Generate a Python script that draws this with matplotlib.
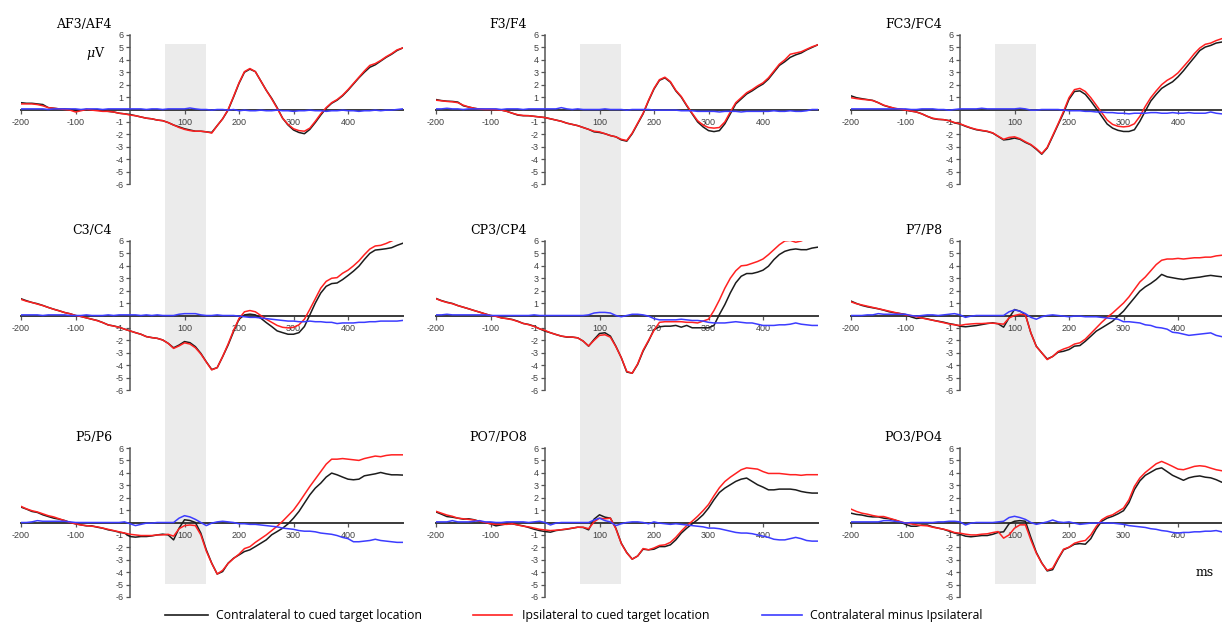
import numpy as np
import matplotlib.pyplot as plt
from matplotlib.lines import Line2D
from matplotlib.patches import Rectangle
from matplotlib import transforms

plt.rcParams['font.family'] = 'Liberation Sans'
plt.rcParams['mathtext.fontset'] = 'dejavuserif'
plt.rcParams['axes.unicode_minus'] = False

# sample times in ms
times = np.arange(-200, 501, 10)

# ---- AF3/AF4
af_contra = [0.55, 0.50, 0.50, 0.45, 0.40, 0.15, 0.10, 0.05, 0.05, 0.00,
             -0.10, -0.05, 0.00, -0.05, -0.05, -0.10, -0.15, -0.20, -0.30, -0.35,
             -0.40, -0.50, -0.60, -0.70, -0.75, -0.85, -0.90, -1.05, -1.25, -1.40,
             -1.55, -1.65, -1.75, -1.75, -1.80, -1.85, -1.30, -0.75, -0.05, 1.00,
             2.10, 3.00, 3.25, 3.05, 2.30, 1.55, 0.90, 0.15, -0.70, -1.25,
             -1.65, -1.85, -1.95, -1.60, -1.05, -0.45, 0.10, 0.50, 0.75, 1.10,
             1.55, 2.05, 2.55, 3.00, 3.40, 3.60, 3.90, 4.20, 4.45, 4.75,
             4.95]
af_ipsi = [0.45, 0.45, 0.45, 0.40, 0.30, 0.15, 0.10, 0.05, 0.00, -0.05,
           -0.20, -0.10, 0.00, -0.05, -0.10, -0.15, -0.15, -0.20, -0.30, -0.35,
           -0.45, -0.50, -0.60, -0.70, -0.75, -0.85, -0.90, -1.05, -1.25, -1.45,
           -1.60, -1.70, -1.75, -1.75, -1.80, -1.90, -1.30, -0.75, 0.00, 1.05,
           2.15, 3.05, 3.30, 3.05, 2.30, 1.55, 0.85, 0.10, -0.70, -1.20,
           -1.55, -1.70, -1.75, -1.50, -0.95, -0.35, 0.15, 0.55, 0.80, 1.15,
           1.60, 2.10, 2.60, 3.10, 3.55, 3.70, 3.95, 4.25, 4.50, 4.80,
           4.95]
af_diff = [0.05, 0.05, 0.05, 0.05, 0.05, 0.00, 0.05, 0.05, 0.05, 0.05,
           0.05, 0.00, 0.05, 0.05, 0.05, 0.00, 0.05, 0.05, 0.05, 0.05,
           0.05, 0.05, 0.05, 0.00, 0.05, 0.05, 0.00, 0.05, 0.05, 0.05,
           0.05, 0.12, 0.05, 0.00, 0.00, -0.05, 0.00, 0.00, -0.05, 0.00,
           -0.10, -0.05, -0.10, -0.10, -0.05, -0.10, -0.10, -0.05, -0.10, -0.10,
           -0.15, -0.10, -0.10, -0.05, -0.10, -0.10, -0.15, -0.10, -0.10, -0.05,
           -0.10, -0.10, -0.15, -0.10, -0.10, -0.05, -0.10, -0.05, -0.05, 0.00,
           0.05]

# ---- F3/F4
f_contra = [0.80, 0.72, 0.67, 0.65, 0.60, 0.30, 0.20, 0.10, 0.03, 0.00,
            0.00, 0.00, -0.05, -0.15, -0.30, -0.45, -0.50, -0.50, -0.55, -0.60,
            -0.65, -0.75, -0.85, -0.95, -1.10, -1.20, -1.30, -1.45, -1.60, -1.80,
            -1.85, -1.95, -2.10, -2.20, -2.45, -2.55, -1.95, -1.15, -0.35, 0.70,
            1.65, 2.35, 2.55, 2.20, 1.50, 1.00, 0.30, -0.35, -1.00, -1.40,
            -1.70, -1.78, -1.70, -1.15, -0.35, 0.45, 0.85, 1.25, 1.50, 1.80,
            2.05, 2.45, 3.00, 3.55, 3.85, 4.20, 4.40, 4.55, 4.80, 5.00,
            5.20]
f_ipsi = [0.75, 0.70, 0.65, 0.62, 0.55, 0.35, 0.20, 0.10, 0.03, 0.00,
          0.00, -0.02, -0.05, -0.15, -0.30, -0.42, -0.48, -0.50, -0.55, -0.60,
          -0.65, -0.75, -0.85, -0.95, -1.10, -1.20, -1.30, -1.45, -1.60, -1.75,
          -1.80, -1.95, -2.10, -2.20, -2.40, -2.50, -1.90, -1.10, -0.30, 0.75,
          1.70, 2.40, 2.60, 2.25, 1.55, 1.05, 0.35, -0.30, -0.90, -1.25,
          -1.45, -1.50, -1.45, -1.00, -0.20, 0.55, 0.95, 1.35, 1.60, 1.90,
          2.15, 2.55, 3.10, 3.65, 4.00, 4.45, 4.55, 4.65, 4.85, 5.05,
          5.20]
f_diff = [0.05, 0.05, 0.10, 0.05, 0.05, 0.00, 0.05, 0.05, 0.05, 0.05,
          0.05, 0.05, 0.00, 0.05, 0.05, 0.05, 0.00, 0.05, 0.05, 0.05,
          0.05, 0.05, 0.05, 0.15, 0.05, 0.00, 0.05, 0.00, 0.00, 0.00,
          0.00, 0.05, 0.00, 0.00, 0.00, -0.05, 0.00, 0.00, 0.00, 0.00,
          -0.05, -0.05, -0.05, -0.05, -0.05, -0.10, -0.10, -0.10, -0.15, -0.15,
          -0.15, -0.15, -0.20, -0.15, -0.15, -0.15, -0.20, -0.15, -0.15, -0.15,
          -0.15, -0.15, -0.10, -0.15, -0.15, -0.10, -0.15, -0.15, -0.10, 0.00,
          0.00]

# ---- FC3/FC4
fc_contra = [1.10, 0.95, 0.87, 0.80, 0.73, 0.55, 0.33, 0.20, 0.08, 0.03,
             -0.05, -0.13, -0.20, -0.35, -0.55, -0.73, -0.80, -0.82, -0.90, -1.08,
             -1.17, -1.35, -1.50, -1.63, -1.70, -1.77, -1.90, -2.17, -2.45, -2.40,
             -2.30, -2.40, -2.65, -2.85, -3.20, -3.60, -3.10, -2.17, -1.22, -0.27,
             0.82, 1.45, 1.50, 1.22, 0.68, 0.08, -0.55, -1.17, -1.50, -1.68,
             -1.77, -1.77, -1.63, -0.95, -0.13, 0.68, 1.22, 1.70, 1.98, 2.23,
             2.63, 3.12, 3.67, 4.20, 4.75, 5.03, 5.16, 5.35, 5.43, 5.50,
             5.55]
fc_ipsi = [0.95, 0.88, 0.82, 0.78, 0.72, 0.55, 0.35, 0.22, 0.10, 0.03,
           -0.05, -0.12, -0.20, -0.35, -0.55, -0.70, -0.78, -0.82, -0.90, -1.05,
           -1.15, -1.32, -1.48, -1.60, -1.68, -1.75, -1.88, -2.15, -2.40, -2.25,
           -2.20, -2.35, -2.60, -2.82, -3.15, -3.55, -3.05, -2.10, -1.15, -0.15,
           0.95, 1.60, 1.70, 1.45, 0.95, 0.35, -0.25, -0.85, -1.20, -1.35,
           -1.40, -1.35, -1.15, -0.55, 0.25, 0.95, 1.50, 2.00, 2.35, 2.60,
           2.95, 3.45, 3.95, 4.50, 4.95, 5.25, 5.35, 5.55, 5.70, 5.85,
           5.90]
fc_diff = [0.05, 0.05, 0.05, 0.05, 0.05, 0.05, 0.05, 0.05, 0.05, 0.05,
           0.05, 0.00, 0.00, 0.05, 0.05, 0.05, 0.00, 0.00, -0.05, 0.00,
           0.05, 0.05, 0.05, 0.05, 0.10, 0.05, 0.05, 0.05, 0.05, 0.05,
           0.05, 0.10, 0.05, -0.05, -0.05, 0.00, 0.00, 0.00, 0.00, -0.05,
           -0.10, -0.10, -0.10, -0.15, -0.15, -0.20, -0.20, -0.25, -0.25, -0.30,
           -0.30, -0.35, -0.30, -0.30, -0.30, -0.25, -0.25, -0.30, -0.30, -0.25,
           -0.30, -0.30, -0.25, -0.30, -0.30, -0.30, -0.20, -0.30, -0.35, -0.35,
           -0.35]

# ---- C3/C4
c_contra = [1.35, 1.19, 1.05, 0.95, 0.81, 0.65, 0.51, 0.38, 0.24, 0.14,
            0.00, -0.08, -0.19, -0.30, -0.40, -0.57, -0.76, -0.84, -0.95, -1.10,
            -1.24, -1.38, -1.51, -1.70, -1.78, -1.84, -1.97, -2.24, -2.60, -2.38,
            -2.10, -2.19, -2.51, -3.05, -3.73, -4.35, -4.20, -3.32, -2.38, -1.30,
            -0.30, 0.05, 0.11, 0.05, -0.22, -0.57, -0.89, -1.24, -1.38, -1.51,
            -1.51, -1.38, -0.89, 0.05, 1.00, 1.81, 2.35, 2.57, 2.62, 2.89,
            3.22, 3.57, 3.97, 4.51, 5.00, 5.27, 5.32, 5.38, 5.46, 5.65,
            5.81]
c_ipsi = [1.30, 1.15, 1.05, 0.92, 0.80, 0.65, 0.50, 0.38, 0.24, 0.14,
          0.00, -0.08, -0.19, -0.30, -0.42, -0.57, -0.76, -0.85, -0.95, -1.10,
          -1.24, -1.38, -1.51, -1.70, -1.78, -1.84, -1.97, -2.24, -2.65, -2.45,
          -2.20, -2.30, -2.60, -3.10, -3.75, -4.38, -4.20, -3.30, -2.30, -1.20,
          -0.25, 0.30, 0.40, 0.30, 0.00, -0.30, -0.55, -0.80, -0.95, -1.00,
          -0.95, -0.75, -0.30, 0.50, 1.35, 2.20, 2.75, 3.00, 3.05, 3.40,
          3.65, 4.00, 4.40, 4.90, 5.35, 5.60, 5.65, 5.80, 6.00, 6.20,
          6.35]
c_diff = [0.05, 0.05, 0.05, 0.05, 0.00, 0.05, 0.05, 0.05, 0.05, 0.00,
          0.00, 0.00, 0.05, 0.00, 0.00, 0.00, 0.05, 0.00, 0.05, 0.05,
          0.05, 0.05, 0.00, 0.05, 0.00, 0.05, 0.00, 0.00, 0.00, 0.10,
          0.15, 0.15, 0.15, 0.05, 0.00, 0.00, 0.05, 0.00, 0.00, 0.00,
          -0.05, -0.10, -0.15, -0.15, -0.20, -0.25, -0.30, -0.35, -0.40, -0.45,
          -0.45, -0.50, -0.50, -0.45, -0.50, -0.50, -0.55, -0.55, -0.65, -0.60,
          -0.60, -0.60, -0.55, -0.55, -0.50, -0.50, -0.45, -0.45, -0.45, -0.45,
          -0.40]

# ---- CP3/CP4
cp_contra = [1.37, 1.20, 1.07, 0.97, 0.80, 0.67, 0.54, 0.40, 0.27, 0.13,
             0.00, -0.05, -0.19, -0.24, -0.32, -0.46, -0.64, -0.72, -0.86, -1.07,
             -1.26, -1.39, -1.53, -1.66, -1.74, -1.74, -1.80, -2.06, -2.47, -1.93,
             -1.45, -1.39, -1.66, -2.47, -3.40, -4.55, -4.65, -3.94, -2.87, -2.06,
             -1.13, -0.91, -0.86, -0.86, -0.80, -0.94, -0.80, -0.99, -0.99, -0.99,
             -0.99, -0.80, 0.08, 0.88, 1.82, 2.63, 3.16, 3.38, 3.38, 3.49,
             3.65, 3.97, 4.50, 4.91, 5.17, 5.30, 5.36, 5.30, 5.30, 5.43,
             5.50]
cp_ipsi = [1.35, 1.18, 1.05, 0.95, 0.80, 0.67, 0.54, 0.40, 0.27, 0.13,
           0.00, -0.07, -0.19, -0.26, -0.34, -0.48, -0.64, -0.74, -0.88, -1.07,
           -1.20, -1.39, -1.53, -1.66, -1.72, -1.74, -1.80, -2.06, -2.45, -2.00,
           -1.60, -1.55, -1.75, -2.50, -3.40, -4.50, -4.65, -3.90, -2.80, -2.00,
           -1.20, -0.55, -0.50, -0.50, -0.50, -0.50, -0.55, -0.55, -0.60, -0.45,
           -0.30, 0.40, 1.25, 2.20, 3.00, 3.60, 4.00, 4.05, 4.20, 4.35,
           4.55, 4.90, 5.30, 5.70, 6.00, 6.05, 5.90, 6.00, 6.20, 6.30,
           6.30]
cp_diff = [0.05, 0.05, 0.10, 0.05, 0.05, 0.05, 0.05, 0.05, 0.05, 0.05,
           0.00, 0.00, 0.00, 0.00, 0.00, 0.00, 0.00, 0.00, 0.05, 0.00,
           0.00, 0.00, 0.00, 0.00, 0.00, 0.00, 0.00, 0.00, 0.05, 0.20,
           0.25, 0.25, 0.20, 0.00, -0.10, 0.00, 0.10, 0.10, 0.05, -0.05,
           -0.25, -0.35, -0.35, -0.35, -0.35, -0.30, -0.35, -0.40, -0.40, -0.45,
           -0.55, -0.60, -0.60, -0.60, -0.55, -0.50, -0.55, -0.60, -0.60, -0.70,
           -0.80, -0.80, -0.80, -0.75, -0.75, -0.70, -0.60, -0.70, -0.75, -0.80,
           -0.80]

# ---- P7/P8
p7_contra = [1.16, 0.97, 0.81, 0.70, 0.62, 0.54, 0.43, 0.30, 0.22, 0.16,
             0.08, -0.11, -0.24, -0.19, -0.27, -0.38, -0.46, -0.54, -0.65, -0.73,
             -0.86, -0.91, -0.86, -0.81, -0.73, -0.65, -0.59, -0.67, -0.94, -0.19,
             0.48, 0.35, 0.08, -1.40, -2.47, -3.01, -3.50, -3.30, -2.96, -2.88,
             -2.74, -2.47, -2.42, -2.07, -1.67, -1.26, -1.00, -0.73, -0.46, -0.05,
             0.35, 0.89, 1.42, 1.96, 2.31, 2.58, 2.90, 3.31, 3.12, 3.04,
             2.96, 2.90, 2.98, 3.04, 3.09, 3.17, 3.23, 3.17, 3.12, 3.05,
             3.00]
p7_ipsi = [1.10, 0.95, 0.85, 0.75, 0.65, 0.55, 0.45, 0.35, 0.25, 0.15,
           0.05, 0.00, -0.10, -0.20, -0.30, -0.38, -0.48, -0.58, -0.68, -0.75,
           -0.80, -0.72, -0.68, -0.65, -0.65, -0.62, -0.62, -0.65, -0.70, -0.20,
           0.00, 0.10, 0.05, -1.40, -2.50, -3.00, -3.55, -3.30, -2.90, -2.70,
           -2.55, -2.30, -2.20, -1.90, -1.45, -1.00, -0.55, -0.15, 0.20, 0.60,
           1.00, 1.50, 2.10, 2.70, 3.10, 3.60, 4.10, 4.45, 4.55, 4.55,
           4.60, 4.55, 4.60, 4.65, 4.65, 4.70, 4.70, 4.80, 4.85, 4.85,
           4.85]
p7_diff = [0.00, 0.00, 0.00, 0.05, 0.05, 0.15, 0.10, 0.10, 0.10, 0.10,
           0.10, 0.00, -0.05, 0.00, 0.05, 0.05, 0.00, 0.05, 0.10, 0.15,
           0.05, -0.15, -0.05, 0.00, 0.00, 0.00, 0.00, 0.00, 0.00, 0.30,
           0.45, 0.35, 0.15, -0.15, -0.30, -0.10, 0.00, 0.05, 0.00, -0.05,
           -0.10, -0.05, -0.05, -0.10, -0.10, -0.10, -0.15, -0.20, -0.25, -0.30,
           -0.50, -0.50, -0.55, -0.60, -0.75, -0.80, -0.95, -1.00, -1.10, -1.35,
           -1.40, -1.50, -1.60, -1.55, -1.50, -1.45, -1.40, -1.60, -1.70, -1.75,
           -1.80]

# ---- P5/P6
p5_contra = [1.24, 1.08, 0.89, 0.81, 0.62, 0.48, 0.35, 0.27, 0.16, 0.00,
             -0.11, -0.19, -0.27, -0.27, -0.38, -0.46, -0.59, -0.67, -0.78, -0.86,
             -1.13, -1.18, -1.13, -1.13, -1.08, -1.00, -0.94, -1.00, -1.40, -0.46,
             0.22, 0.16, 0.00, -0.86, -2.20, -3.28, -4.15, -3.95, -3.28, -2.88,
             -2.61, -2.34, -2.20, -1.94, -1.67, -1.40, -0.99, -0.73, -0.46, -0.11,
             0.35, 0.89, 1.56, 2.23, 2.77, 3.17, 3.66, 3.98, 3.84, 3.66,
             3.49, 3.44, 3.49, 3.76, 3.84, 3.92, 4.03, 3.92, 3.84, 3.84,
             3.82]
p5_ipsi = [1.30, 1.10, 0.95, 0.85, 0.70, 0.55, 0.45, 0.30, 0.15, 0.00,
           -0.10, -0.20, -0.25, -0.30, -0.35, -0.45, -0.55, -0.65, -0.75, -0.85,
           -0.95, -1.00, -1.05, -1.05, -1.05, -1.00, -1.00, -0.95, -1.10, -0.50,
           -0.25, -0.20, -0.25, -1.00, -2.30, -3.30, -4.15, -3.85, -3.30, -2.90,
           -2.55, -2.10, -1.95, -1.60, -1.30, -1.00, -0.65, -0.30, 0.10, 0.55,
           1.00, 1.60, 2.25, 2.90, 3.50, 4.10, 4.70, 5.10, 5.10, 5.15,
           5.10, 5.05, 5.00, 5.15, 5.25, 5.35, 5.30, 5.40, 5.45, 5.45,
           5.45]
p5_diff = [0.00, 0.00, 0.05, 0.15, 0.10, 0.10, 0.10, 0.10, 0.10, 0.05,
           0.00, 0.00, 0.00, 0.00, 0.00, 0.00, 0.00, 0.00, 0.00, 0.05,
           -0.10, -0.25, -0.15, -0.05, -0.05, 0.00, 0.00, 0.00, 0.00, 0.35,
           0.55, 0.45, 0.25, 0.00, -0.25, -0.05, 0.05, 0.10, 0.05, 0.00,
           -0.10, -0.10, -0.15, -0.15, -0.20, -0.25, -0.30, -0.35, -0.45, -0.50,
           -0.55, -0.65, -0.70, -0.70, -0.75, -0.85, -0.90, -0.95, -1.05, -1.20,
           -1.30, -1.55, -1.55, -1.50, -1.45, -1.35, -1.45, -1.50, -1.55, -1.60,
           -1.60]

# ---- PO7/PO8
po7_contra = [0.85, 0.67, 0.48, 0.43, 0.35, 0.27, 0.30, 0.22, 0.08, 0.00,
              -0.11, -0.27, -0.19, -0.11, -0.11, -0.19, -0.27, -0.40, -0.54, -0.65,
              -0.73, -0.78, -0.65, -0.59, -0.54, -0.46, -0.38, -0.40, -0.59, 0.27,
              0.62, 0.43, 0.35, -0.46, -1.67, -2.42, -2.95, -2.70, -2.15, -2.20,
              -2.15, -1.94, -1.94, -1.80, -1.40, -0.86, -0.46, -0.11, 0.22, 0.62,
              1.16, 1.83, 2.42, 2.77, 3.04, 3.31, 3.49, 3.58, 3.31, 3.04,
              2.85, 2.63, 2.63, 2.69, 2.69, 2.69, 2.63, 2.50, 2.42, 2.37,
              2.37]
po7_ipsi = [0.90, 0.75, 0.60, 0.50, 0.35, 0.30, 0.25, 0.20, 0.10, 0.00,
            -0.10, -0.15, -0.15, -0.15, -0.10, -0.20, -0.30, -0.35, -0.45, -0.55,
            -0.60, -0.65, -0.62, -0.58, -0.52, -0.45, -0.38, -0.38, -0.50, 0.05,
            0.35, 0.30, 0.35, -0.50, -1.70, -2.45, -2.95, -2.70, -2.10, -2.20,
            -2.05, -1.85, -1.80, -1.60, -1.20, -0.70, -0.25, 0.10, 0.50, 0.95,
            1.45, 2.15, 2.80, 3.30, 3.65, 3.95, 4.25, 4.40, 4.35, 4.30,
            4.10, 3.95, 3.95, 3.95, 3.90, 3.85, 3.85, 3.80, 3.85, 3.85,
            3.85]
po7_diff = [0.05, 0.05, 0.05, 0.15, 0.05, 0.05, 0.05, 0.10, 0.15, 0.05,
            0.05, 0.00, 0.00, 0.05, 0.05, 0.05, 0.05, 0.00, 0.05, 0.10,
            0.00, -0.20, -0.05, 0.00, 0.00, 0.00, 0.00, 0.00, 0.00, 0.20,
            0.35, 0.15, 0.05, -0.25, -0.10, 0.00, 0.05, 0.05, 0.00, -0.10,
            0.05, -0.05, -0.10, -0.15, -0.10, -0.15, -0.20, -0.25, -0.30, -0.35,
            -0.45, -0.45, -0.50, -0.60, -0.70, -0.80, -0.85, -0.85, -0.90, -1.00,
            -1.10, -1.20, -1.35, -1.40, -1.40, -1.30, -1.20, -1.30, -1.45, -1.50,
            -1.50]

# ---- PO3/PO4
po3_contra = [0.75, 0.65, 0.60, 0.50, 0.45, 0.45, 0.35, 0.30, 0.20, 0.05,
              -0.15, -0.30, -0.30, -0.20, -0.20, -0.35, -0.45, -0.55, -0.70, -0.85,
              -0.95, -1.10, -1.15, -1.10, -1.05, -1.05, -0.95, -0.80, -0.75, -0.10,
              0.10, 0.15, 0.10, -1.20, -2.40, -3.25, -3.90, -3.80, -2.95, -2.20,
              -2.00, -1.75, -1.70, -1.75, -1.30, -0.50, 0.10, 0.35, 0.50, 0.70,
              0.95, 1.60, 2.65, 3.35, 3.80, 4.05, 4.30, 4.40, 4.10, 3.80,
              3.60, 3.40, 3.60, 3.70, 3.75, 3.65, 3.60, 3.45, 3.25, 3.15,
              3.10]
po3_ipsi = [1.08, 0.89, 0.75, 0.67, 0.56, 0.48, 0.48, 0.35, 0.22, 0.08,
            -0.05, -0.11, -0.19, -0.24, -0.27, -0.38, -0.46, -0.54, -0.65, -0.81,
            -0.86, -0.94, -1.00, -1.00, -0.94, -0.91, -0.81, -0.73, -1.26, -1.00,
            -0.46, -0.19, -0.19, -1.40, -2.47, -3.28, -3.85, -3.68, -2.88, -2.15,
            -1.99, -1.67, -1.53, -1.45, -1.00, -0.32, 0.22, 0.48, 0.62, 0.89,
            1.16, 1.83, 2.90, 3.58, 4.03, 4.38, 4.73, 4.92, 4.73, 4.52,
            4.30, 4.25, 4.38, 4.52, 4.57, 4.52, 4.38, 4.25, 4.17, 4.10,
            4.10]
po3_diff = [0.05, 0.05, 0.05, 0.05, 0.05, 0.05, 0.15, 0.15, 0.10, 0.05,
            -0.05, 0.00, 0.00, 0.00, 0.00, 0.00, 0.05, 0.05, 0.10, 0.10,
            0.05, -0.20, -0.05, 0.00, 0.00, 0.00, 0.00, 0.05, 0.10, 0.40,
            0.50, 0.40, 0.25, 0.00, -0.15, -0.05, 0.05, 0.20, 0.05, 0.00,
            0.05, -0.05, -0.15, -0.10, -0.05, -0.05, 0.00, -0.05, -0.05, -0.10,
            -0.15, -0.25, -0.30, -0.35, -0.40, -0.50, -0.55, -0.65, -0.70, -0.80,
            -0.85, -0.80, -0.80, -0.75, -0.75, -0.70, -0.70, -0.65, -0.75, -0.80,
            -0.85]

panels = [
    ('AF3/AF4', af_contra, af_ipsi, af_diff),
    ('F3/F4', f_contra, f_ipsi, f_diff),
    ('FC3/FC4', fc_contra, fc_ipsi, fc_diff),
    ('C3/C4', c_contra, c_ipsi, c_diff),
    ('CP3/CP4', cp_contra, cp_ipsi, cp_diff),
    ('P7/P8', p7_contra, p7_ipsi, p7_diff),
    ('P5/P6', p5_contra, p5_ipsi, p5_diff),
    ('PO7/PO8', po7_contra, po7_ipsi, po7_diff),
    ('PO3/PO4', po3_contra, po3_ipsi, po3_diff),
]

series_labels = ['Contralateral to cued target location',
                 'Ipsilateral to cued target location',
                 'Contralateral minus Ipsilateral']
series_colors = ['#1c1c1c', '#ff2121', '#3c3cff']

window = (65, 140)  # shaded time window, ms

W, H = 1222, 622
fig = plt.figure(figsize=(W / 100, H / 100), dpi=100)


def px_box(x, y, w, h):
    return [x / W, 1 - (y + h) / H, w / W, h / H]


col_left = [21, 436, 851]     # pixel column of -200 ms
row_top = [35, 241, 448]      # pixel row of +6 uV
ax_w, ax_h = 381.5, 149

axes = []
for i, (name, contra, ipsi, diff) in enumerate(panels):
    r, c = divmod(i, 3)
    ax = fig.add_axes(px_box(col_left[c], row_top[r], ax_w, ax_h))
    ax.patch.set_visible(False)
    for vals, col in zip((contra, ipsi, diff), series_colors):
        ax.plot(times, vals, color=col, lw=1.1, zorder=3)
    ax.set_xlim(-200, 500)
    ax.set_ylim(-6, 6)
    ax.spines['top'].set_visible(False)
    ax.spines['right'].set_visible(False)
    ax.spines['left'].set_position(('data', 0))
    ax.spines['bottom'].set_position(('data', 0))
    ax.spines['left'].set_color('#555555')
    ax.spines['left'].set_linewidth(1.1)
    ax.spines['bottom'].set_color('#3a3a3a')
    ax.spines['bottom'].set_linewidth(1.4)
    ax.set_xticks([-200, -100, 100, 200, 300, 400])
    ax.set_yticks([-6, -5, -4, -3, -2, -1, 1, 2, 3, 4, 5, 6])
    ax.tick_params(axis='both', length=3, width=0.9, color='#555555',
                   labelsize=6.5, labelcolor='#404040')
    ax.tick_params(axis='y', pad=1.5)
    ax.tick_params(axis='x', pad=3)
    ax.annotate(name, xy=(0, 6), xytext=(-18, 7), textcoords='offset pixels',
                ha='right', va='baseline', family='DejaVu Serif', fontsize=9)
    axes.append(ax)

axes[0].annotate(r'$\mu$V', xy=(0, 4.5), xytext=(-25, 0), textcoords='offset pixels',
                 ha='right', va='center', family='DejaVu Serif', fontsize=9)

# grey window running through all three rows of each column
y_top, y_bot = 1 - 44 / H, 1 - 584 / H
for c in range(3):
    trans = transforms.blended_transform_factory(axes[c].transData, fig.transFigure)
    fig.add_artist(Rectangle((window[0], y_bot), window[1] - window[0], y_top - y_bot,
                             transform=trans, facecolor='#ebebeb', edgecolor='none',
                             zorder=-1))

fig.text(1205 / W, 1 - 573 / H, 'ms', ha='center', va='center',
         family='DejaVu Serif', fontsize=9)

# legend row along the bottom
leg_y = 1 - 615 / H
leg_items = [(165, 208, 216), (473, 512, 522), (762, 802, 810)]
for (x0, x1, tx), col, lab in zip(leg_items, series_colors, series_labels):
    fig.add_artist(Line2D([x0 / W, x1 / W], [leg_y, leg_y], color=col, lw=1.2,
                          transform=fig.transFigure))
    fig.text(tx / W, leg_y, lab, ha='left', va='center', family='Open Sans', fontsize=8.8)

fig.savefig('out.png', dpi=100)
